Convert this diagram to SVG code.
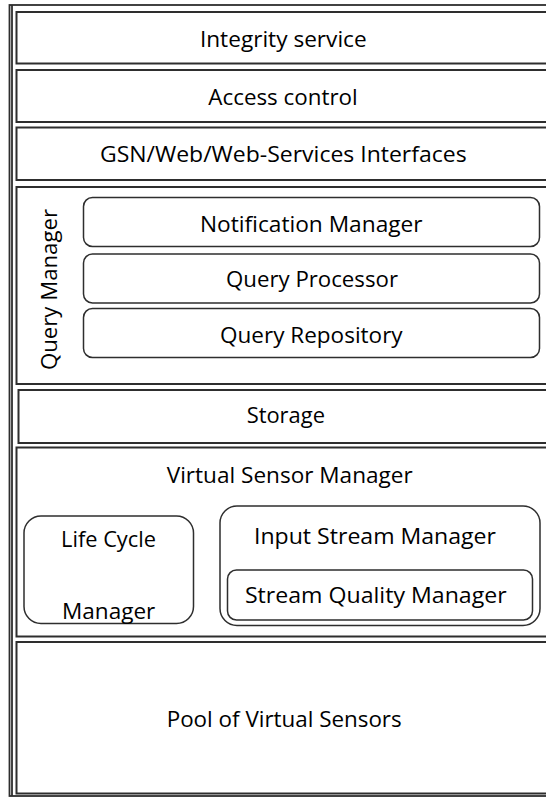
<svg xmlns="http://www.w3.org/2000/svg" width="546" height="798" viewBox="0 0 546 798">
<style>
.box{fill:#fff;stroke:#2e2e2e;stroke-width:2}
.rbox{fill:#fff;stroke:#2e2e2e;stroke-width:1.5}
.frame{fill:none;stroke:#2e2e2e;stroke-width:1.8}
text{font-family:"Open Sans","Noto Sans",sans-serif;font-size:21px;fill:#000;text-anchor:middle}
</style>
<rect width="546" height="798" fill="#fff"/>
<g id="frame">
<rect class="frame" x="9.5" y="5" width="560" height="791"/>
<line class="frame" x1="12" y1="5" x2="12" y2="796"/>
</g>
<g id="integrity">
<rect class="box" x="16.5" y="12" width="560" height="51.5"/>
<text x="283.3" y="46.7" textLength="166.7" lengthAdjust="spacingAndGlyphs">Integrity service</text>
</g>
<g id="access">
<rect class="box" x="16.5" y="70" width="560" height="52"/>
<text x="283" y="105" textLength="149.4" lengthAdjust="spacingAndGlyphs">Access control</text>
</g>
<g id="interfaces">
<rect class="box" x="16.5" y="127.5" width="560" height="52.5"/>
<text x="283.3" y="161.7" textLength="366.7" lengthAdjust="spacingAndGlyphs">GSN/Web/Web-Services Interfaces</text>
</g>
<g id="query-manager">
<rect class="box" x="16.5" y="187" width="560" height="197"/>
<text transform="translate(57,289.5) rotate(-90)" textLength="161" lengthAdjust="spacingAndGlyphs">Query Manager</text>
</g>
<g id="notification-manager">
<rect class="rbox" x="83.5" y="197.5" width="456" height="49" rx="9"/>
<text x="311.3" y="231.7" textLength="222.7" lengthAdjust="spacingAndGlyphs">Notification Manager</text>
</g>
<g id="query-processor">
<rect class="rbox" x="83.5" y="254" width="456" height="49" rx="9"/>
<text x="312" y="287.3" textLength="172" lengthAdjust="spacingAndGlyphs">Query Processor</text>
</g>
<g id="query-repository">
<rect class="rbox" x="83.5" y="308.5" width="456" height="49" rx="9"/>
<text x="311.3" y="342.7" textLength="182.7" lengthAdjust="spacingAndGlyphs">Query Repository</text>
</g>
<g id="storage">
<rect class="box" x="18.5" y="390" width="560" height="53"/>
<text x="285.8" y="423.3" textLength="78.3" lengthAdjust="spacingAndGlyphs">Storage</text>
</g>
<g id="virtual-sensor-manager">
<rect class="box" x="16.5" y="447.5" width="560" height="189"/>
<text x="289.7" y="482.7" textLength="246" lengthAdjust="spacingAndGlyphs">Virtual Sensor Manager</text>
</g>
<g id="life-cycle-manager">
<rect class="rbox" x="24" y="516" width="169.5" height="107.5" rx="17"/>
<text x="108.5" y="547.3" textLength="95" lengthAdjust="spacingAndGlyphs">Life Cycle</text>
<text x="108.7" y="618.5" textLength="93.3" lengthAdjust="spacingAndGlyphs">Manager</text>
</g>
<g id="input-stream-manager">
<rect class="rbox" x="220" y="506" width="320" height="119.5" rx="17"/>
<text x="375" y="543.5" textLength="242" lengthAdjust="spacingAndGlyphs">Input Stream Manager</text>
</g>
<g id="stream-quality-manager">
<rect class="rbox" x="227.5" y="570" width="305" height="50" rx="9"/>
<text x="375.8" y="603.3" textLength="261.7" lengthAdjust="spacingAndGlyphs">Stream Quality Manager</text>
</g>
<g id="pool">
<rect class="box" x="16.5" y="642" width="560" height="151.5"/>
<text x="284.2" y="727.3" textLength="235" lengthAdjust="spacingAndGlyphs">Pool of Virtual Sensors</text>
</g>
<g id="connectors"></g>
</svg>
